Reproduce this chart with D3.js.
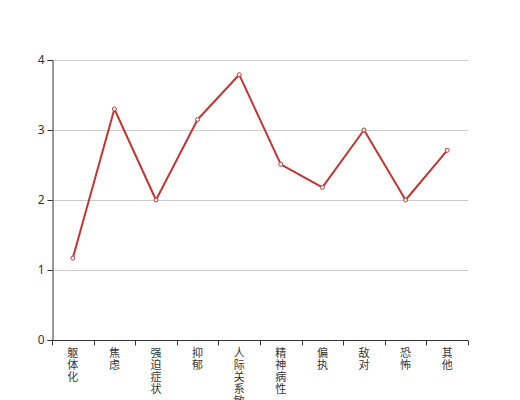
<!DOCTYPE html>
<html><head><meta charset="utf-8">
<script src="https://cdn.jsdelivr.net/npm/d3@7"></script>
<style>body{margin:0;background:#fff;} svg{display:block;font-family:"Noto Sans CJK SC","Noto Sans",sans-serif;}</style>
</head><body>
<svg id="c" width="520" height="400"></svg>
<script>
const categories = ["躯体化","焦虑","强迫症状","抑郁","人际关系敏感","精神病性","偏执","敌对","恐怖","其他"];
const values = [1.17, 3.3, 2.0, 3.15, 3.79, 2.51, 2.18, 3.0, 2.0, 2.71];
const yTicks = [0, 1, 2, 3, 4];

(function(){
const svg = d3.select("#c");
const mLeft = 52, mRight = 468, mTop = 60, mBottom = 340;
const x = d3.scaleBand().domain(categories).range([mLeft, mRight]);
const y = d3.scaleLinear().domain([0, 4]).range([mBottom, mTop]);

// grid
svg.append("g").selectAll("line").data(yTicks.filter(d => d > 0)).join("line")
  .attr("x1", mLeft).attr("x2", mRight)
  .attr("y1", d => y(d) + 0.5).attr("y2", d => y(d) + 0.5)
  .attr("stroke", "#ccc").attr("stroke-width", 1);

// y axis
const ya = svg.append("g").attr("transform", `translate(${mLeft + 0.5},0)`)
  .call(d3.axisLeft(y).tickValues(yTicks).tickSize(5).tickPadding(3).tickFormat(d3.format("d")));
ya.select(".domain").attr("stroke", "#333");
ya.selectAll(".tick line").attr("stroke", "#333");
ya.selectAll(".tick text").attr("fill", "#333").attr("font-size", 12)
  .attr("font-family", "'Noto Sans','DejaVu Sans',sans-serif");

// x axis
const xa = svg.append("g").attr("transform", `translate(0,${mBottom + 0.5})`)
  .call(d3.axisBottom(x).tickSize(0).tickFormat(""));
xa.select(".domain").attr("stroke", "#333").attr("d", `M${mLeft},0H${mRight}`);
const bounds = d3.range(categories.length + 1).map(i => mLeft + i * x.step());
xa.append("g").selectAll("line").data(bounds).join("line")
  .attr("x1", d => Math.round(d) + 0.5).attr("x2", d => Math.round(d) + 0.5)
  .attr("y1", 0).attr("y2", 5).attr("stroke", "#333");

// vertical labels (one character per line)
const lab = svg.append("g");
categories.forEach(c => {
  const t = lab.append("text").attr("font-size", 11).attr("fill", "#333")
    .attr("text-anchor", "middle");
  Array.from(c).forEach((ch, i) => {
    t.append("tspan").attr("x", x(c) + x.bandwidth() / 2).attr("y", 357 + i * 12).text(ch);
  });
});

// line
const pts = categories.map((c, i) => [x(c) + x.bandwidth() / 2, y(values[i])]);
svg.append("path").attr("d", d3.line()(pts)).attr("fill", "none")
  .attr("stroke", "#c23531").attr("stroke-width", 2).attr("stroke-linejoin", "round");
svg.append("g").selectAll("circle").data(pts).join("circle")
  .attr("cx", d => d[0]).attr("cy", d => d[1]).attr("r", 2)
  .attr("fill", "#fff").attr("stroke", "#c23531").attr("stroke-width", 1);
})();
</script>
</body></html>
